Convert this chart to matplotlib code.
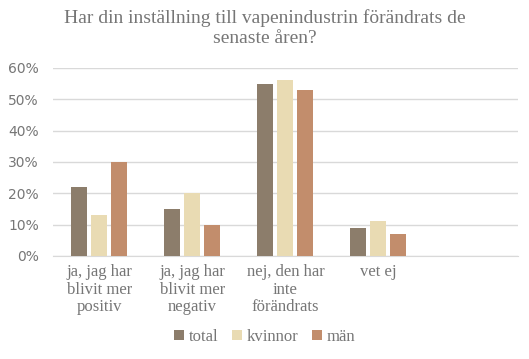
import numpy as np
import matplotlib.pyplot as plt
from matplotlib.ticker import PercentFormatter

# Data
categories = ['ja, jag har\nblivit mer\npositiv', 'ja, jag har\nblivit mer\nnegativ',
              'nej, den har\ninte\nförändrats', 'vet ej', '']
total = [22, 15, 55, 9, 0]
kvinnor = [13, 20, 56, 11, 0]
man = [30, 10, 53, 7, 0]
series_names = ['total', 'kvinnor', 'män']
colors = ['#8C7D6B', '#E9DBB3', '#C28D6C']

text_color = '#767676'
serif = ['Liberation Serif', 'DejaVu Serif']

fig = plt.figure(figsize=(5.29, 3.59), dpi=100)
ax = fig.add_axes([0.1, 0.287, 0.879, 0.524])

x = np.arange(len(categories))
width = 0.17
step = 0.215
for i, (vals, name, c) in enumerate(zip([total, kvinnor, man], series_names, colors)):
    v = np.array(vals) / 100
    ax.bar(x + (i - 1) * step, v, width, color=c, label=name, zorder=3)

ax.set_xlim(-0.5, len(categories) - 0.5)
ax.set_ylim(0, 0.6)
ax.set_yticks(np.arange(0, 0.61, 0.1))
ax.yaxis.set_major_formatter(PercentFormatter(1.0, decimals=0))
ax.grid(axis='y', color='#D9D9D9', linewidth=1, zorder=0)
for s in ['top', 'right', 'left']:
    ax.spines[s].set_visible(False)
ax.spines['bottom'].set_color('#D9D9D9')
ax.tick_params(axis='both', length=0, colors=text_color)
ax.tick_params(axis='y', labelsize=10, pad=10)
ax.set_xticks(x)
ax.set_xticklabels(categories, fontsize=12, family=serif, color=text_color, linespacing=1.1)
ax.tick_params(axis='x', pad=6)

fig.suptitle('Har din inställning till vapenindustrin förändrats de\nsenaste åren?',
             x=0.5, y=0.975, fontsize=14, family=serif, color=text_color, linespacing=1.25)

leg = fig.legend(loc='center', bbox_to_anchor=(0.5, 0.062), ncol=3, frameon=False,
                 prop={'family': 'Liberation Serif', 'size': 12},
                 handlelength=0.6, handleheight=0.6,
                 handletextpad=0.3, columnspacing=0.8)
for t in leg.get_texts():
    t.set_color(text_color)

fig.savefig('out.png', dpi=100)
